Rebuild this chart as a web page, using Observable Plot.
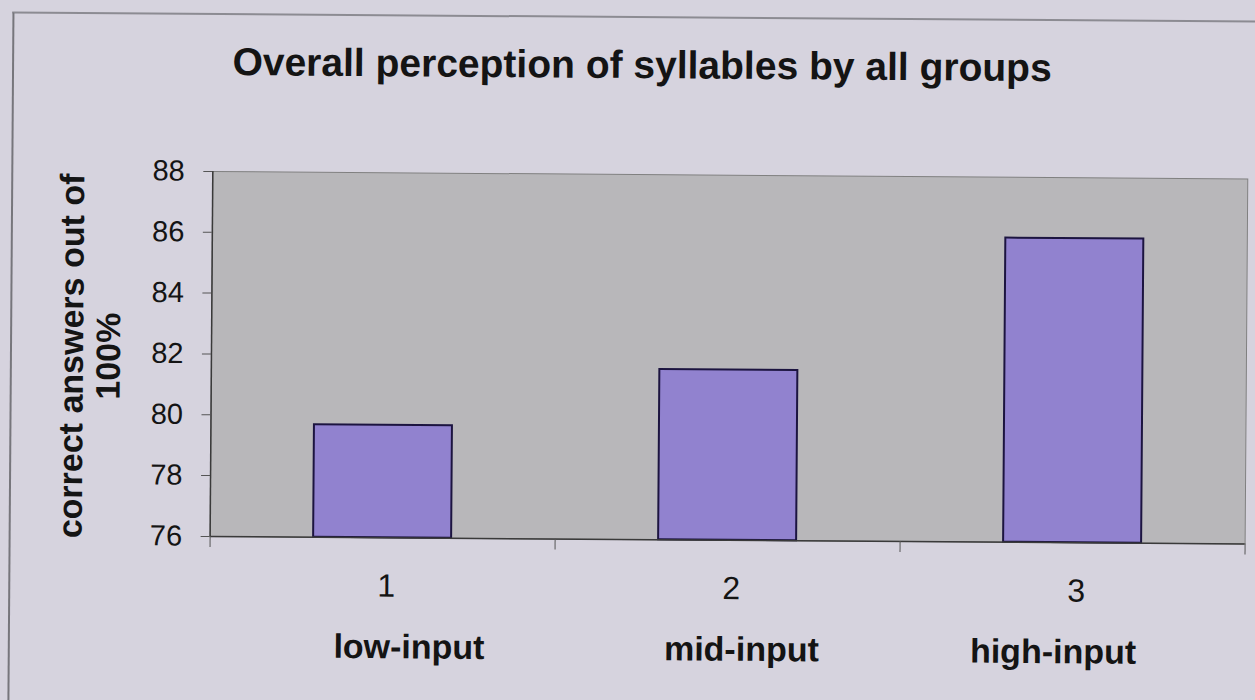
<!DOCTYPE html>
<html>
<head>
<meta charset="utf-8">
<script src="https://cdn.jsdelivr.net/npm/d3@7"></script>
<script src="https://cdn.jsdelivr.net/npm/@observablehq/plot@0.6"></script>
<style>
  html, body { margin: 0; padding: 0; background: #d6d3de; overflow: hidden; }
  #wrap { position: relative; width: 1255px; height: 700px; transform: rotate(0.42deg); transform-origin: 627px 350px;
          font-family: "Liberation Sans", Arial, sans-serif; color: #141414; }
  #border { position: absolute; left: 10px; top: 16px; width: 1300px; height: 800px;
            border-top: 2px solid #8c8b92; border-left: 2px solid #77767c; }
  #title { position: absolute; left: 0; top: 45px; width: 1280px; text-align: center;
           font-size: 39px; font-weight: bold; line-height: 40px; white-space: nowrap; }
  #ylabel { position: absolute; left: 90px; top: 360px; width: 440px; margin-left: -220px; margin-top: -37px;
            text-align: center; font-size: 34px; font-weight: bold; line-height: 37px;
            transform: rotate(-90deg); transform-origin: 220px 37px; white-space: nowrap; }
  #xlabel { position: absolute; left: 0; top: 631px; width: 1474px; text-align: center;
            font-size: 34px; font-weight: bold; line-height: 34px; white-space: pre; }
  #chart { position: absolute; left: 0; top: 0; }
</style>
</head>
<body>
<div id="wrap">
  <div id="border"></div>
  <div id="chart"></div>
  <div id="title"></div>
  <div id="ylabel"></div>
  <div id="xlabel"></div>
</div>
<script>
const titleText = "Overall perception of syllables by all groups";
const yLabelLines = ["correct answers out of", "100%"];
const categories = [1, 2, 3];
const groups = ["low-input", "mid-input", "high-input"];
const groupGapSpaces = [19, 16];
const values = [79.7, 81.6, 86.0];
const yTicks = [76, 78, 80, 82, 84, 86, 88];
const xBoundaries = [0.5, 1.5, 2.5, 3.5];

const data = categories.map((c, i) => ({cat: c, group: groups[i], value: values[i]}));

document.getElementById("title").textContent = titleText;
document.getElementById("ylabel").innerHTML = yLabelLines.join("<br>");
document.getElementById("xlabel").textContent =
  groups[0] + " ".repeat(groupGapSpaces[0]) + groups[1] + " ".repeat(groupGapSpaces[1]) + groups[2];

const chart = Plot.plot({
  width: 1255,
  height: 700,
  marginLeft: 211,
  marginRight: 9,
  marginTop: 174,
  marginBottom: 161,
  style: {background: "transparent", fontFamily: "'Liberation Sans', Arial, sans-serif", color: "#141414"},
  x: {type: "linear", domain: [0.5, 3.5], label: null},
  y: {domain: [76, 88], label: null},
  marks: [
    Plot.frame({fill: "#b8b7ba", stroke: "#808080"}),
    Plot.rectY(data, {x1: d => d.cat - 0.2, x2: d => d.cat + 0.2, y1: 76, y2: "value",
      fill: "#9182cf", stroke: "#1c1440", strokeWidth: 2}),
    Plot.ruleY([76], {stroke: "#3a3a3a", strokeWidth: 1.5}),
    Plot.ruleX([0.5], {stroke: "#3a3a3a", strokeWidth: 1.5}),
    Plot.axisY({ticks: yTicks, tickSize: 9, tickPadding: 19, fontSize: 29, tickFormat: d => String(d), label: null, stroke: "#555"}),
    Plot.axisX({ticks: xBoundaries, tickSize: 11, tickFormat: () => "", label: null, stroke: "#555"}),
    Plot.axisX({ticks: categories, tickSize: 0, tickPadding: 36, fontSize: 32, tickFormat: d => String(d), label: null, dx: 4})
  ]
});
document.getElementById("chart").appendChild(chart);
</script>
</body>
</html>
